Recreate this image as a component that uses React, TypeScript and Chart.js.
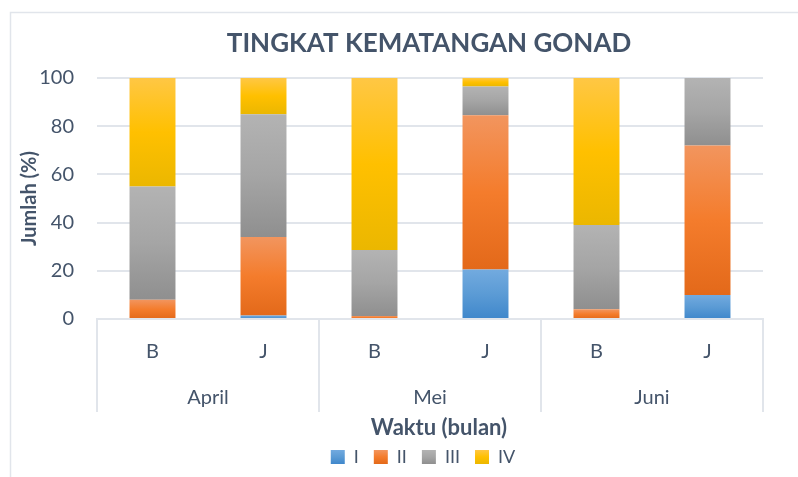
import React, { useEffect, useRef } from 'react';
import { Chart, registerables } from 'chart.js';
Chart.register(...registerables);

const categories = ['B', 'J', 'B', 'J', 'B', 'J'];
const months = ['April', 'Mei', 'Juni'];
const seriesNames = ['I', 'II', 'III', 'IV'];
const stageI = [0, 1.5, 0, 20.5, 0, 10];
const stageII = [8, 32.5, 1.2, 64, 4, 62];
const stageIII = [47, 51, 27.4, 12, 35, 28];
const stageIV = [45, 15, 71.4, 3.5, 61, 0];
const yTicks = [0, 20, 40, 60, 80, 100];
const chartTitle = 'TINGKAT KEMATANGAN GONAD';
const xTitle = 'Waktu (bulan)';
const yTitle = 'Jumlah (%)';

const seriesValues = [stageI, stageII, stageIII, stageIV];
const palettes = [
  ['#72AADF', '#5B9BD5', '#3F87CB'],
  ['#F2955E', '#F47C2C', '#E3691A'],
  ['#B3B3B3', '#A5A5A5', '#8F8F8F'],
  ['#FFC744', '#FFC000', '#EBB700'],
];
const TEXT = '#44546A';
const LINE = '#E1E5EB';
const FONT = 'Lato';

function makeGrad(ctx: CanvasRenderingContext2D, y0: number, y1: number, stops: string[]) {
  const g = ctx.createLinearGradient(0, y0, 0, y1);
  g.addColorStop(0, stops[0]);
  g.addColorStop(0.5, stops[1]);
  g.addColorStop(1, stops[2]);
  return g;
}

function segmentFill(c: any) {
  const stops = palettes[c.datasetIndex];
  const chart = c.chart;
  const y = chart.scales && chart.scales.y;
  if (c.type !== 'data' || !y || !chart.chartArea) return stops[1];
  let base = 0;
  for (let d = 0; d < c.datasetIndex; d++) base += seriesValues[d][c.dataIndex];
  const top = base + seriesValues[c.datasetIndex][c.dataIndex];
  const y0 = y.getPixelForValue(top);
  const y1 = y.getPixelForValue(base);
  if (!(y1 > y0 + 0.5)) return stops[1];
  return makeGrad(chart.ctx, y0, y1, stops);
}

const framePlugin = {
  id: 'frame',
  beforeDraw(chart: any) {
    const ctx = chart.ctx;
    ctx.save();
    ctx.fillStyle = '#FFFFFF';
    ctx.fillRect(0, 0, chart.width, chart.height);
    ctx.strokeStyle = LINE;
    ctx.lineWidth = 1.5;
    ctx.strokeRect(10.5, 12.5, chart.width + 20, chart.height + 20);
    ctx.restore();
  },
};

const dividerPlugin = {
  id: 'dividers',
  afterDraw(chart: any) {
    const x2 = chart.scales.x2;
    const x = chart.scales.x;
    const ctx = chart.ctx;
    const n = months.length;
    const half = (x2.getPixelForValue(1) - x2.getPixelForValue(0)) / 2;
    ctx.save();
    ctx.strokeStyle = LINE;
    ctx.lineWidth = 2;
    for (let i = 0; i <= n; i++) {
      const px = i < n ? x2.getPixelForValue(i) - half : x2.getPixelForValue(n - 1) + half;
      ctx.beginPath();
      ctx.moveTo(px, x.top);
      ctx.lineTo(px, x.top + 93);
      ctx.stroke();
    }
    ctx.restore();
  },
};

const centerPlugin = {
  id: 'centerBoxes',
  afterLayout(chart: any) {
    const mid = (chart.chartArea.left + chart.chartArea.right) / 2;
    const shift = (box: any, target: number) => {
      if (!box) return;
      const c = (box.left + box.right) / 2;
      const d = target - c;
      box.left += d;
      box.right += d;
    };
    shift(chart.titleBlock, mid - 1);
    shift(chart.legend, mid - 7);
    const sub = chart.boxes.find(
      (b: any) => b !== chart.titleBlock && b.options && b.options.text === xTitle
    );
    shift(sub, mid + 9);
  },
};

export default function App() {
  const ref = useRef<HTMLCanvasElement | null>(null);
  useEffect(() => {
    if (!ref.current) return;
    const chart = new Chart(ref.current, {
      type: 'bar',
      data: {
        labels: categories,
        datasets: seriesNames.map((name, i) => ({
          label: name,
          data: seriesValues[i],
          backgroundColor: segmentFill,
          borderWidth: 0,
          barPercentage: 0.414,
          categoryPercentage: 1,
          xAxisID: 'x',
          yAxisID: 'y',
        })),
      },
      options: {
        animation: false,
        responsive: false,
        layout: { padding: { left: 12, right: 35, top: 0, bottom: 1 } },
        plugins: {
          title: {
            display: true,
            text: chartTitle,
            color: TEXT,
            font: { family: FONT, size: 26, weight: 'bold', lineHeight: 1.2 },
            padding: { top: 28.4, bottom: 18.4 },
          },
          subtitle: {
            display: true,
            position: 'bottom',
            weight: 500,
            text: xTitle,
            color: TEXT,
            font: { family: FONT, size: 22, weight: 'bold', lineHeight: 1 },
            padding: { top: 8, bottom: -6 },
          },
          legend: {
            position: 'bottom',
            labels: {
              color: TEXT,
              font: { family: FONT, size: 18 },
              boxWidth: 14,
              boxHeight: 14,
              padding: 15,
              generateLabels: (ch: any) => {
                const items = Chart.defaults.plugins.legend.labels.generateLabels(ch);
                const lg = ch.legend;
                return items.map((it: any, i: number) => {
                  let fill: any = palettes[i][1];
                  if (lg && typeof lg.top === 'number' && !isNaN(lg.top)) {
                    const y0 = lg.top + 15 + 2;
                    fill = makeGrad(ch.ctx, y0, y0 + 14, palettes[i]);
                  }
                  return { ...it, fillStyle: fill, strokeStyle: 'rgba(0,0,0,0)', lineWidth: 0 };
                });
              },
            },
          },
          tooltip: { enabled: false },
        },
        scales: {
          x: {
            type: 'category',
            position: 'bottom',
            stacked: true,
            weight: 0,
            grid: { display: false, drawTicks: false },
            border: { display: true, color: LINE, width: 2 },
            ticks: { color: TEXT, font: { family: FONT, size: 20 }, padding: 21, maxRotation: 0, autoSkip: false },
            afterFit: (s: any) => { s.height = 60; },
          },
          x2: {
            type: 'category',
            position: 'bottom',
            labels: months,
            offset: true,
            weight: 1,
            grid: { display: false, drawTicks: false },
            border: { display: false },
            ticks: { color: TEXT, font: { family: FONT, size: 20 }, padding: 7, maxRotation: 0, autoSkip: false },
            afterFit: (s: any) => { s.height = 30; },
          },
          y: {
            stacked: true,
            min: 0,
            max: 100,
            grid: { color: LINE, lineWidth: 2, drawTicks: false },
            border: { display: false },
            ticks: { color: TEXT, font: { family: FONT, size: 20 }, padding: 23 },
            afterBuildTicks: (s: any) => { s.ticks = yTicks.map((v) => ({ value: v })); },
            afterFit: (s: any) => { s.width = 85; },
            title: {
              display: true,
              text: yTitle,
              color: TEXT,
              font: { family: FONT, size: 20, weight: 'bold', lineHeight: 1.2 },
              padding: { top: 6, bottom: 0 },
            },
          },
        },
      },
      plugins: [framePlugin, dividerPlugin, centerPlugin],
    } as any);
    return () => chart.destroy();
  }, []);
  return (
    <div style={{ position: 'absolute', left: 0, top: 0, width: 798, height: 477 }}>
      <canvas ref={ref} width={798} height={477} style={{ display: 'block' }} />
    </div>
  );
}
